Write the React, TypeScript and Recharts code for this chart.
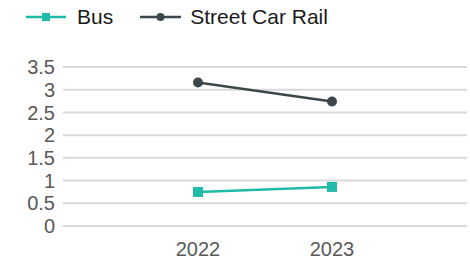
import {
  LineChart,
  Line,
  XAxis,
  YAxis,
  CartesianGrid,
  Legend,
} from "recharts";

const years = ["2022", "2023"];
const busValues = [0.75, 0.86];
const streetCarRailValues = [3.16, 2.74];
const yTicks = [0, 0.5, 1, 1.5, 2, 2.5, 3, 3.5];

const BUS_COLOR = "#1fbaa8";
const RAIL_COLOR = "#3c474c";
const FONT = "'Liberation Sans', Arial, sans-serif";

const data = years.map((year, i) => ({
  year,
  bus: busValues[i],
  streetCarRail: streetCarRailValues[i],
}));

const SquareDot = (props: any) => {
  const { cx, cy } = props;
  if (cx == null || cy == null) return null;
  return <rect x={cx - 5} y={cy - 5} width={10} height={10} fill={BUS_COLOR} />;
};

const CircleDot = (props: any) => {
  const { cx, cy } = props;
  if (cx == null || cy == null) return null;
  return <circle cx={cx} cy={cy} r={5} fill={RAIL_COLOR} />;
};

const renderLegend = () => (
  <div
    style={{
      display: "flex",
      alignItems: "center",
      height: 34,
      paddingLeft: 26,
      fontFamily: FONT,
      fontSize: 21,
      color: "#1a1a1a",
    }}
  >
    <svg width={40} height={12}>
      <line x1={0} y1={6} x2={40} y2={6} stroke={BUS_COLOR} strokeWidth={2.5} />
      <rect x={16} y={2} width={8} height={8} fill={BUS_COLOR} />
    </svg>
    <span style={{ marginLeft: 11, marginRight: 27 }}>Bus</span>
    <svg width={41} height={12}>
      <line x1={0} y1={6} x2={41} y2={6} stroke={RAIL_COLOR} strokeWidth={2.5} />
      <circle cx={20.5} cy={6} r={4} fill={RAIL_COLOR} />
    </svg>
    <span style={{ marginLeft: 9 }}>Street Car Rail</span>
  </div>
);

export default function App() {
  return (
    <div style={{ position: "absolute", left: 0, top: 0, background: "#fff" }}>
      <LineChart
        width={470}
        height={261}
        data={data}
        margin={{ top: 33, right: 3, bottom: 0, left: 0 }}
      >
        <CartesianGrid vertical={false} stroke="#d9d9d9" strokeWidth={2} />
        <XAxis
          dataKey="year"
          scale="point"
          padding={{ left: 135, right: 135 }}
          axisLine={false}
          tickLine={false}
          tickMargin={10}
          height={35}
          tick={{ fill: "#595959", fontSize: 20, fontFamily: FONT }}
        />
        <YAxis
          domain={[0, 3.5]}
          ticks={yTicks}
          width={63}
          axisLine={false}
          tickLine={false}
          interval={0}
          tick={{ fill: "#595959", fontSize: 20, fontFamily: FONT }}
        />
        <Legend
          verticalAlign="top"
          align="left"
          content={renderLegend}
          wrapperStyle={{ top: 0, left: 0, width: 470 }}
        />
        <Line
          dataKey="bus"
          name="Bus"
          stroke={BUS_COLOR}
          strokeWidth={2.5}
          dot={<SquareDot />}
          activeDot={false}
          isAnimationActive={false}
        />
        <Line
          dataKey="streetCarRail"
          name="Street Car Rail"
          stroke={RAIL_COLOR}
          strokeWidth={2.5}
          dot={<CircleDot />}
          activeDot={false}
          isAnimationActive={false}
        />
      </LineChart>
    </div>
  );
}
